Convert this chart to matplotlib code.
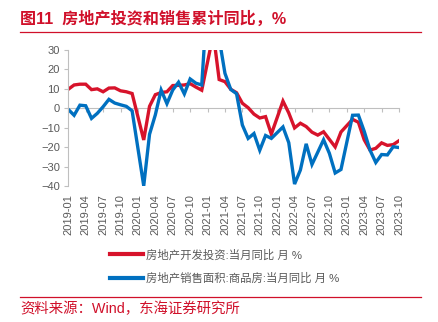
#!/usr/bin/env python3
"""
Real estate investment and sales area, monthly YoY, 2019-01 .. 2023-10.
"""

import pandas as pd
import matplotlib
matplotlib.use("Agg")
import matplotlib.pyplot as plt
from matplotlib.lines import Line2D

# monthly categories, x-axis shows every third month
months = list(pd.period_range("2019-01", "2023-10", freq="M").strftime("%Y-%m"))
tick_labels = months[::3]

# January values are not published separately (Jan-Feb combined) -> None
invest_yoy = [
    9.8, 12.0, 12.4, 12.4, 9.6, 10.0, 8.5, 10.4, 10.5, 9.0, 8.5, 7.6,
    None, -16.3, 1.0, 7.0, 8.1, 8.5, 11.7, 11.8, 12.0, 12.7, 10.9, 9.3,
    None, 38.3, 14.8, 13.7, 9.8, 8.0, 2.6, 0.3, -3.0, -5.0, -4.3, -13.3,
    None, 3.7, -2.4, -10.1, -7.7, -9.4, -12.3, -13.8, -12.1, -16.0, -19.9, -12.2,
    None, -5.7, -7.2, -16.2, -21.5, -20.6, -17.8, -19.1, -18.7, -16.7,
]
sales_area_yoy = [
    -0.6, -3.6, 1.6, 1.3, -5.2, -2.6, 0.8, 4.6, 2.7, 1.8, 1.0, -1.3,
    None, -39.9, -13.4, -3.4, 9.4, 2.4, 9.4, 13.4, 7.4, 15.1, 12.9, 12.0,
    None, 104.9, 36.0, 18.0, 9.7, 7.5, -8.6, -15.5, -13.0, -21.6, -14.0, -15.5,
    None, -9.6, -17.7, -39.0, -31.8, -18.3, -28.9, -22.6, -16.2, -23.2, -33.3, -31.5,
    None, -3.6, -3.5, -11.8, -21.5, -27.9, -23.8, -24.0, -19.8, -20.2,
]

label_invest = "房地产开发投资:当月同比 月 %"
label_sales = "房地产销售面积:商品房:当月同比 月 %"
title = "图11  房地产投资和销售累计同比，%"
source = "资料来源：Wind，东海证券研究所"

RED = "#D7132B"
BLUE = "#0070C0"
GREY = "#595959"
AXIS = "#BFBFBF"


def main():
    plt.rcParams["font.family"] = ["Liberation Sans", "Noto Sans CJK SC"]

    W, H = 439, 322
    fig = plt.figure(figsize=(W / 100, H / 100), dpi=100)
    ax = fig.add_axes([68.3 / W, 1 - 186 / H, (399 - 68.3) / W, (186 - 50) / H])

    s_inv = pd.Series(invest_yoy, dtype=float).dropna()
    s_sal = pd.Series(sales_area_yoy, dtype=float).dropna()
    ax.plot(s_inv.index, s_inv.values, color=RED, lw=2.4, solid_joinstyle="miter")
    ax.plot(s_sal.index, s_sal.values, color=BLUE, lw=2.4, solid_joinstyle="miter")

    ax.set_xlim(0, len(months) - 1)
    ax.set_ylim(-40, 30)
    ax.set_yticks(range(-40, 31, 10))

    for side in ("top", "right"):
        ax.spines[side].set_visible(False)
    ax.spines["left"].set_color(AXIS)
    ax.spines["bottom"].set_color(AXIS)
    ax.spines["bottom"].set_position(("data", 0))
    ax.spines["bottom"].set_zorder(0)

    ax.tick_params(axis="y", direction="out", length=3, color=AXIS,
                   labelcolor=GREY, labelsize=8, pad=3)
    ax.set_xticks(range(0, len(months), 3))
    ax.tick_params(axis="x", direction="out", length=3, color=AXIS,
                   labelbottom=False)

    # month labels sit below the plot, not on the zero line
    sec = ax.secondary_xaxis("bottom")
    sec.set_xticks(range(0, len(months), 3), tick_labels)
    sec.tick_params(length=0, labelsize=8, labelcolor=GREY, rotation=90, pad=6)
    sec.spines["bottom"].set_visible(False)

    handles = [Line2D([], [], color=RED, lw=3), Line2D([], [], color=BLUE, lw=3)]
    fig.legend(handles, [label_invest, label_sales], loc="upper left",
               bbox_to_anchor=(110 / W, 1 - 249 / H), frameon=False,
               fontsize=8.2, labelcolor=GREY, handlelength=2.9,
               handletextpad=0.3, labelspacing=1.05, borderpad=0,
               borderaxespad=0)

    fig.text(20 / W, 1 - 18.5 / H, title, color="#D0102A", fontsize=11.6,
             fontweight="bold", va="center", ha="left")
    fig.add_artist(Line2D([20 / W, 421 / W], [1 - 32 / H, 1 - 32 / H],
                          color="#D0102A", lw=0.9))
    fig.add_artist(Line2D([20 / W, 421 / W], [1 - 296.7 / H, 1 - 296.7 / H],
                          color="#D0102A", lw=0.9))
    fig.text(20 / W, 1 - 308.5 / H, source, color="#D0102A", fontsize=10.4,
             va="center", ha="left")

    fig.savefig("out.png", dpi=100)


if __name__ == "__main__":
    main()
